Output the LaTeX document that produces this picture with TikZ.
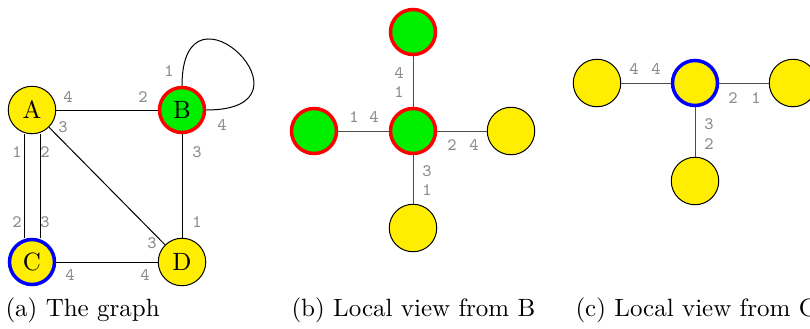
\documentclass[tikz,border=0pt]{standalone}
\usepackage{tikz}
\definecolor{vyellow}{RGB}{255,238,0}
\definecolor{vgreen}{RGB}{0,238,0}

\begin{document}
\begin{tikzpicture}[x=0.4pt,y=0.4pt,
  vtx/.style={circle,draw,fill=vyellow,minimum size=19pt,inner sep=0pt},
  seen/.style={vtx,draw=red,fill=vgreen,line width=1.4pt,minimum size=18pt},
  home/.style={vtx,draw=blue,line width=1.4pt,minimum size=18pt},
  port/.style={font=\ttfamily\scriptsize,text=black!45,inner sep=0pt},
  subcap/.style={anchor=base west,inner sep=0pt}]
\useasboundingbox (0,0) rectangle (810,328);
% (a) the graph
\node[vtx] (A) at (32,218) {A};
\node[seen] (B) at (182,218) {B};
\node[home] (C) at (32,66) {C};
\node[vtx] (D) at (182,66) {D};
\draw (A) -- (B);
\draw (A) -- (D);
\draw (B) -- (D);
\draw (C) -- (D);
\draw ([xshift=-3.2pt]A.south) -- ([xshift=-3.2pt]C.north);
\draw ([xshift=3.2pt]A.south) -- ([xshift=3.2pt]C.north);
\draw (B.north) .. controls +(0,118) and +(120,0) .. (B.east);
\node[port] (pab) at (68,231) {4}; \node[port] (pba) at (143,231) {2};
\node[port] (pbb) at (169,257) {1}; \node[port] (pbb2) at (222,203) {4};
\node[port] (pad) at (63,201) {3}; \node[port] (pda) at (152,85) {3};
\node[port] (pbd) at (197,176) {3}; \node[port] (pdb) at (197,106) {1};
\node[port] (pac) at (17,176) {1}; \node[port] (pac2) at (45,176) {2};
\node[port] (pca) at (17,106) {2}; \node[port] (pca2) at (45,106) {3};
\node[port] (pcd) at (70,53) {4}; \node[port] (pdc) at (145,53) {4};
\node[subcap] (capa) at (5,12) {(a) The graph};
% (b) local view from B
\node[seen] (bB) at (413,197) {};
\node[seen] (bT) at (413,296) {};
\node[seen] (bL) at (314,197) {};
\node[vtx] (bR) at (511,197) {};
\node[vtx] (bD) at (413,100) {};
\draw[black!70] (bB) -- (bT);
\draw[black!70] (bB) -- (bL);
\draw[black!70] (bB) -- (bR);
\draw[black!70] (bB) -- (bD);
\node[port] (qt1) at (399,255) {4}; \node[port] (qt2) at (399,236) {1};
\node[port] (ql1) at (354,211) {1}; \node[port] (ql2) at (374,211) {4};
\node[port] (qr1) at (452,183) {2}; \node[port] (qr2) at (474,183) {4};
\node[port] (qd1) at (427,157) {3}; \node[port] (qd2) at (427,138) {1};
\node[subcap] (capb) at (291,12) {(b) Local view from B};
% (c) local view from C
\node[home] (cC) at (695,245) {};
\node[vtx] (cL) at (597,245) {};
\node[vtx] (cR) at (793,245) {};
\node[vtx] (cD) at (695,147) {};
\draw[black!70] (cC) -- (cL);
\draw[black!70] (cC) -- (cR);
\draw[black!70] (cC) -- (cD);
\node[port] (rl1) at (634,259) {4}; \node[port] (rl2) at (656,259) {4};
\node[port] (rr1) at (733,230) {2}; \node[port] (rr2) at (756,230) {1};
\node[port] (rd1) at (709,204) {3}; \node[port] (rd2) at (709,184) {2};
\node[subcap] (capc) at (575,12) {(c) Local view from C};
\end{tikzpicture}
\end{document}
